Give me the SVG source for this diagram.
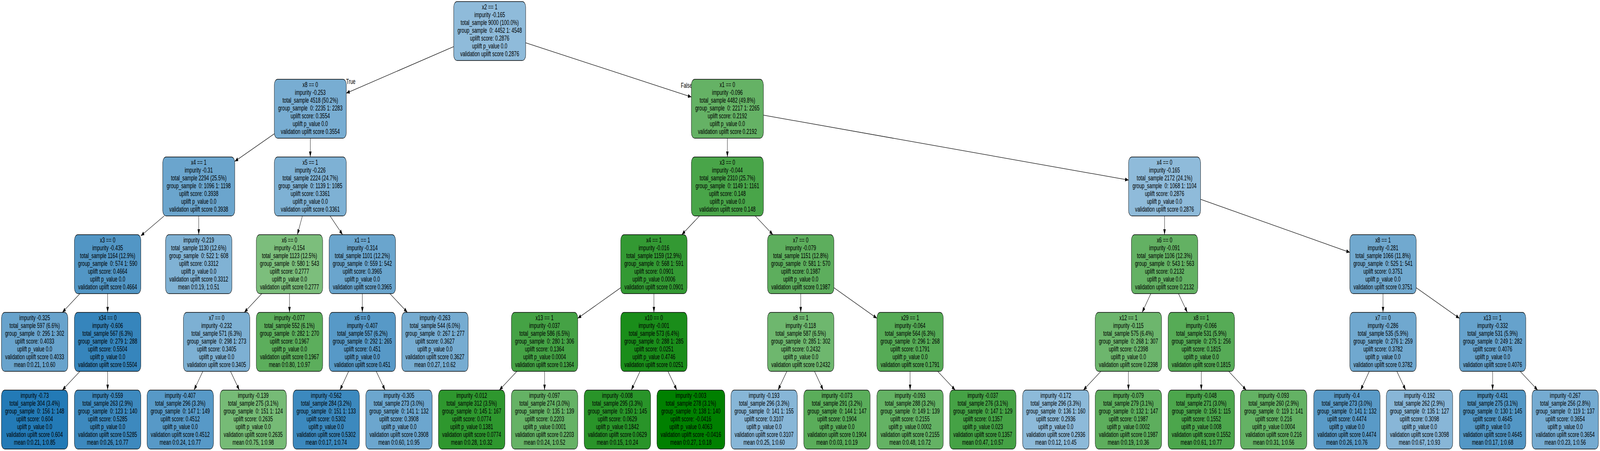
<svg xmlns="http://www.w3.org/2000/svg" width="6533" height="1155" viewBox="0 0 6533 1155" preserveAspectRatio="none" style="display:block;width:100vw;height:100vh">
<style>
.nd rect{stroke:#000;stroke-width:1.3}
text{font-family:"Liberation Sans",Arial,Helvetica,sans-serif;font-size:19px;fill:#000;white-space:pre}
.nd text{text-anchor:middle}
#edges line{stroke:#000;stroke-width:1.3;marker-end:url(#ah)}
</style>
<defs>
<marker id="ah" markerUnits="userSpaceOnUse" markerWidth="14" markerHeight="10" refX="14" refY="5" orient="auto" viewBox="0 0 14 10"><path d="M0,0 L14,5 L0,10 z" fill="#000"/></marker>
</defs>
<rect width="6533" height="1155" fill="#fff"/>
<g id="edges">
<line x1="1852.5" y1="119.4" x2="1414" y2="238.6"/>
<line x1="2146.5" y1="109.6" x2="2823" y2="248.4"/>
<line x1="1120" y1="342.7" x2="958.5" y2="413.3"/>
<line x1="1267" y1="354" x2="1267" y2="402"/>
<line x1="2970" y1="354" x2="2970" y2="402"/>
<line x1="3117" y1="294.9" x2="4608" y2="461.1"/>
<line x1="670.4" y1="553" x2="575" y2="604"/>
<line x1="811.5" y1="553" x2="811.5" y2="601"/>
<line x1="1234.7" y1="553" x2="1214.2" y2="601"/>
<line x1="1347.6" y1="553" x2="1398.9" y2="601"/>
<line x1="2856.2" y1="553" x2="2783.8" y2="601"/>
<line x1="3083.6" y1="553" x2="3155.9" y2="601"/>
<line x1="4755" y1="553" x2="4755" y2="601"/>
<line x1="4902" y1="510.3" x2="5511.5" y2="646.3"/>
<line x1="326.4" y1="752" x2="254.6" y2="800"/>
<line x1="439.5" y1="752" x2="439.5" y2="800"/>
<line x1="1069.1" y1="752" x2="997.4" y2="800"/>
<line x1="1182" y1="752" x2="1182" y2="800"/>
<line x1="1479.5" y1="752" x2="1479.5" y2="800"/>
<line x1="1592" y1="752" x2="1663.5" y2="800"/>
<line x1="2534.5" y1="736.9" x2="2359" y2="815.1"/>
<line x1="2670" y1="752" x2="2670" y2="800"/>
<line x1="3269.5" y1="752" x2="3269.5" y2="800"/>
<line x1="3405" y1="736.9" x2="3580.5" y2="815.1"/>
<line x1="4699" y1="752" x2="4663.5" y2="800"/>
<line x1="4811.9" y1="752" x2="4848.1" y2="800"/>
<line x1="5647" y1="752" x2="5647" y2="800"/>
<line x1="5782.5" y1="736.8" x2="5959" y2="815.2"/>
<line x1="326.4" y1="951" x2="254.6" y2="999"/>
<line x1="439.5" y1="951" x2="439.5" y2="999"/>
<line x1="828.2" y1="951" x2="792.3" y2="999"/>
<line x1="941.2" y1="951" x2="977.3" y2="999"/>
<line x1="1423.5" y1="951" x2="1388" y2="999"/>
<line x1="1536.2" y1="951" x2="1572.3" y2="999"/>
<line x1="2110.6" y1="951" x2="2038.9" y2="999"/>
<line x1="2223.5" y1="951" x2="2223.5" y2="999"/>
<line x1="2613.5" y1="951" x2="2577.5" y2="999"/>
<line x1="2727.3" y1="951" x2="2763.7" y2="999"/>
<line x1="3212.8" y1="951" x2="3176.7" y2="999"/>
<line x1="3325.7" y1="951" x2="3361.3" y2="999"/>
<line x1="3716" y1="951" x2="3716" y2="999"/>
<line x1="3828.7" y1="951" x2="3900.3" y2="999"/>
<line x1="4495" y1="951" x2="4423.5" y2="999"/>
<line x1="4607.5" y1="951" x2="4607.5" y2="999"/>
<line x1="4905" y1="951" x2="4905" y2="999"/>
<line x1="5017.1" y1="951" x2="5088.4" y2="999"/>
<line x1="5591" y1="951" x2="5555.5" y2="999"/>
<line x1="5703.5" y1="951" x2="5739.5" y2="999"/>
<line x1="6094.5" y1="951" x2="6094.5" y2="999"/>
<line x1="6207" y1="951" x2="6278.5" y2="999"/>
<text x="1413" y="215">True</text>
<text x="2780" y="225">False</text>
</g>
<g id="n0" class="nd"><rect x="1852.5" y="4" width="294" height="151" rx="14" fill="#8fbbda"/><text x="1999.5" y="24.5" xml:space="preserve"><tspan x="1999.5">x2 == 1</tspan><tspan x="1999.5" dy="20">impurity -0.165</tspan><tspan x="1999.5" dy="20">total_sample 9000 (100.0%)</tspan><tspan x="1999.5" dy="20">group_sample  0: 4452 1: 4548</tspan><tspan x="1999.5" dy="20">uplift score: 0.2876</tspan><tspan x="1999.5" dy="20">uplift p_value 0.0</tspan><tspan x="1999.5" dy="20">validation uplift score 0.2876</tspan></text></g>
<g id="n1" class="nd"><rect x="1120" y="203" width="294" height="151" rx="14" fill="#78add2"/><text x="1267" y="223.5" xml:space="preserve"><tspan x="1267">x8 == 0</tspan><tspan x="1267" dy="20">impurity -0.253</tspan><tspan x="1267" dy="20">total_sample 4518 (50.2%)</tspan><tspan x="1267" dy="20">group_sample  0: 2235 1: 2283</tspan><tspan x="1267" dy="20">uplift score: 0.3554</tspan><tspan x="1267" dy="20">uplift p_value 0.0</tspan><tspan x="1267" dy="20">validation uplift score 0.3554</tspan></text></g>
<g id="n2" class="nd"><rect x="2823" y="203" width="294" height="151" rx="14" fill="#65b265"/><text x="2970" y="223.5" xml:space="preserve"><tspan x="2970">x1 == 0</tspan><tspan x="2970" dy="20">impurity -0.096</tspan><tspan x="2970" dy="20">total_sample 4482 (49.8%)</tspan><tspan x="2970" dy="20">group_sample  0: 2217 1: 2265</tspan><tspan x="2970" dy="20">uplift score: 0.2192</tspan><tspan x="2970" dy="20">uplift p_value 0.0</tspan><tspan x="2970" dy="20">validation uplift score 0.2192</tspan></text></g>
<g id="n3" class="nd"><rect x="664.5" y="402" width="294" height="151" rx="14" fill="#6ba5cd"/><text x="811.5" y="422.5" xml:space="preserve"><tspan x="811.5">x4 == 1</tspan><tspan x="811.5" dy="20">impurity -0.31</tspan><tspan x="811.5" dy="20">total_sample 2294 (25.5%)</tspan><tspan x="811.5" dy="20">group_sample  0: 1096 1: 1198</tspan><tspan x="811.5" dy="20">uplift score: 0.3938</tspan><tspan x="811.5" dy="20">uplift p_value 0.0</tspan><tspan x="811.5" dy="20">validation uplift score 0.3938</tspan></text></g>
<g id="n4" class="nd"><rect x="1120" y="402" width="294" height="151" rx="14" fill="#7eb1d4"/><text x="1267" y="422.5" xml:space="preserve"><tspan x="1267">x5 == 1</tspan><tspan x="1267" dy="20">impurity -0.226</tspan><tspan x="1267" dy="20">total_sample 2224 (24.7%)</tspan><tspan x="1267" dy="20">group_sample  0: 1139 1: 1085</tspan><tspan x="1267" dy="20">uplift score: 0.3361</tspan><tspan x="1267" dy="20">uplift p_value 0.0</tspan><tspan x="1267" dy="20">validation uplift score 0.3361</tspan></text></g>
<g id="n5" class="nd"><rect x="2823" y="402" width="294" height="151" rx="14" fill="#49a549"/><text x="2970" y="422.5" xml:space="preserve"><tspan x="2970">x3 == 0</tspan><tspan x="2970" dy="20">impurity -0.044</tspan><tspan x="2970" dy="20">total_sample 2310 (25.7%)</tspan><tspan x="2970" dy="20">group_sample  0: 1149 1: 1161</tspan><tspan x="2970" dy="20">uplift score: 0.148</tspan><tspan x="2970" dy="20">uplift p_value 0.0</tspan><tspan x="2970" dy="20">validation uplift score 0.148</tspan></text></g>
<g id="n6" class="nd"><rect x="4608" y="402" width="294" height="151" rx="14" fill="#8fbbda"/><text x="4755" y="422.5" xml:space="preserve"><tspan x="4755">x4 == 0</tspan><tspan x="4755" dy="20">impurity -0.165</tspan><tspan x="4755" dy="20">total_sample 2172 (24.1%)</tspan><tspan x="4755" dy="20">group_sample  0: 1068 1: 1104</tspan><tspan x="4755" dy="20">uplift score: 0.2876</tspan><tspan x="4755" dy="20">uplift p_value 0.0</tspan><tspan x="4755" dy="20">validation uplift score 0.2876</tspan></text></g>
<g id="n7" class="nd"><rect x="304" y="601" width="271" height="151" rx="14" fill="#5296c5"/><text x="439.5" y="621.5" xml:space="preserve"><tspan x="439.5">x3 == 0</tspan><tspan x="439.5" dy="20">impurity -0.435</tspan><tspan x="439.5" dy="20">total_sample 1164 (12.9%)</tspan><tspan x="439.5" dy="20">group_sample  0: 574 1: 590</tspan><tspan x="439.5" dy="20">uplift score: 0.4664</tspan><tspan x="439.5" dy="20">uplift p_value 0.0</tspan><tspan x="439.5" dy="20">validation uplift score 0.4664</tspan></text></g>
<g id="n8" class="nd"><rect x="676" y="601" width="271" height="151" rx="14" fill="#80b2d4"/><text x="811.5" y="621.5" xml:space="preserve"><tspan x="811.5">impurity -0.219</tspan><tspan x="811.5" dy="20">total_sample 1130 (12.6%)</tspan><tspan x="811.5" dy="20">group_sample  0: 522 1: 608</tspan><tspan x="811.5" dy="20">uplift score: 0.3312</tspan><tspan x="811.5" dy="20">uplift p_value 0.0</tspan><tspan x="811.5" dy="20">validation uplift score 0.3312</tspan><tspan x="811.5" dy="20">mean 0:0.19, 1:0.51</tspan></text></g>
<g id="n9" class="nd"><rect x="1046.5" y="601" width="271" height="151" rx="14" fill="#7cbe7c"/><text x="1182" y="621.5" xml:space="preserve"><tspan x="1182">x6 == 0</tspan><tspan x="1182" dy="20">impurity -0.154</tspan><tspan x="1182" dy="20">total_sample 1123 (12.5%)</tspan><tspan x="1182" dy="20">group_sample  0: 580 1: 543</tspan><tspan x="1182" dy="20">uplift score: 0.2777</tspan><tspan x="1182" dy="20">uplift p_value 0.0</tspan><tspan x="1182" dy="20">validation uplift score 0.2777</tspan></text></g>
<g id="n10" class="nd"><rect x="1344" y="601" width="271" height="151" rx="14" fill="#6aa5cd"/><text x="1479.5" y="621.5" xml:space="preserve"><tspan x="1479.5">x1 == 1</tspan><tspan x="1479.5" dy="20">impurity -0.314</tspan><tspan x="1479.5" dy="20">total_sample 1101 (12.2%)</tspan><tspan x="1479.5" dy="20">group_sample  0: 559 1: 542</tspan><tspan x="1479.5" dy="20">uplift score: 0.3965</tspan><tspan x="1479.5" dy="20">uplift p_value 0.0</tspan><tspan x="1479.5" dy="20">validation uplift score 0.3965</tspan></text></g>
<g id="n11" class="nd"><rect x="2534.5" y="601" width="271" height="151" rx="14" fill="#339933"/><text x="2670" y="621.5" xml:space="preserve"><tspan x="2670">x4 == 1</tspan><tspan x="2670" dy="20">impurity -0.016</tspan><tspan x="2670" dy="20">total_sample 1159 (12.9%)</tspan><tspan x="2670" dy="20">group_sample  0: 568 1: 591</tspan><tspan x="2670" dy="20">uplift score: 0.0901</tspan><tspan x="2670" dy="20">uplift p_value 0.0006</tspan><tspan x="2670" dy="20">validation uplift score 0.0901</tspan></text></g>
<g id="n12" class="nd"><rect x="3134" y="601" width="271" height="151" rx="14" fill="#5dae5d"/><text x="3269.5" y="621.5" xml:space="preserve"><tspan x="3269.5">x7 == 0</tspan><tspan x="3269.5" dy="20">impurity -0.079</tspan><tspan x="3269.5" dy="20">total_sample 1151 (12.8%)</tspan><tspan x="3269.5" dy="20">group_sample  0: 581 1: 570</tspan><tspan x="3269.5" dy="20">uplift score: 0.1987</tspan><tspan x="3269.5" dy="20">uplift p_value 0.0</tspan><tspan x="3269.5" dy="20">validation uplift score 0.1987</tspan></text></g>
<g id="n13" class="nd"><rect x="4619.5" y="601" width="271" height="151" rx="14" fill="#63b163"/><text x="4755" y="621.5" xml:space="preserve"><tspan x="4755">x6 == 0</tspan><tspan x="4755" dy="20">impurity -0.091</tspan><tspan x="4755" dy="20">total_sample 1106 (12.3%)</tspan><tspan x="4755" dy="20">group_sample  0: 543 1: 563</tspan><tspan x="4755" dy="20">uplift score: 0.2132</tspan><tspan x="4755" dy="20">uplift p_value 0.0</tspan><tspan x="4755" dy="20">validation uplift score 0.2132</tspan></text></g>
<g id="n14" class="nd"><rect x="5511.5" y="601" width="271" height="151" rx="14" fill="#71a9cf"/><text x="5647" y="621.5" xml:space="preserve"><tspan x="5647">x8 == 1</tspan><tspan x="5647" dy="20">impurity -0.281</tspan><tspan x="5647" dy="20">total_sample 1066 (11.8%)</tspan><tspan x="5647" dy="20">group_sample  0: 525 1: 541</tspan><tspan x="5647" dy="20">uplift score: 0.3751</tspan><tspan x="5647" dy="20">uplift p_value 0.0</tspan><tspan x="5647" dy="20">validation uplift score 0.3751</tspan></text></g>
<g id="n15" class="nd"><rect x="6" y="800" width="271" height="151" rx="14" fill="#68a3cc"/><text x="141.5" y="820.5" xml:space="preserve"><tspan x="141.5">impurity -0.325</tspan><tspan x="141.5" dy="20">total_sample 597 (6.6%)</tspan><tspan x="141.5" dy="20">group_sample  0: 295 1: 302</tspan><tspan x="141.5" dy="20">uplift score: 0.4033</tspan><tspan x="141.5" dy="20">uplift p_value 0.0</tspan><tspan x="141.5" dy="20">validation uplift score 0.4033</tspan><tspan x="141.5" dy="20">mean 0:0.21, 1:0.60</tspan></text></g>
<g id="n16" class="nd"><rect x="304" y="800" width="271" height="151" rx="14" fill="#3685bc"/><text x="439.5" y="820.5" xml:space="preserve"><tspan x="439.5">x34 == 0</tspan><tspan x="439.5" dy="20">impurity -0.606</tspan><tspan x="439.5" dy="20">total_sample 567 (6.3%)</tspan><tspan x="439.5" dy="20">group_sample  0: 279 1: 288</tspan><tspan x="439.5" dy="20">uplift score: 0.5504</tspan><tspan x="439.5" dy="20">uplift p_value 0.0</tspan><tspan x="439.5" dy="20">validation uplift score 0.5504</tspan></text></g>
<g id="n17" class="nd"><rect x="749" y="800" width="271" height="151" rx="14" fill="#7db0d3"/><text x="884.5" y="820.5" xml:space="preserve"><tspan x="884.5">x7 == 0</tspan><tspan x="884.5" dy="20">impurity -0.232</tspan><tspan x="884.5" dy="20">total_sample 571 (6.3%)</tspan><tspan x="884.5" dy="20">group_sample  0: 298 1: 273</tspan><tspan x="884.5" dy="20">uplift score: 0.3405</tspan><tspan x="884.5" dy="20">uplift p_value 0.0</tspan><tspan x="884.5" dy="20">validation uplift score 0.3405</tspan></text></g>
<g id="n18" class="nd"><rect x="1046.5" y="800" width="271" height="151" rx="14" fill="#5cae5c"/><text x="1182" y="820.5" xml:space="preserve"><tspan x="1182">impurity -0.077</tspan><tspan x="1182" dy="20">total_sample 552 (6.1%)</tspan><tspan x="1182" dy="20">group_sample  0: 282 1: 270</tspan><tspan x="1182" dy="20">uplift score: 0.1967</tspan><tspan x="1182" dy="20">uplift p_value 0.0</tspan><tspan x="1182" dy="20">validation uplift score 0.1967</tspan><tspan x="1182" dy="20">mean 0:0.80, 1:0.97</tspan></text></g>
<g id="n19" class="nd"><rect x="1344" y="800" width="271" height="151" rx="14" fill="#5799c7"/><text x="1479.5" y="820.5" xml:space="preserve"><tspan x="1479.5">x6 == 0</tspan><tspan x="1479.5" dy="20">impurity -0.407</tspan><tspan x="1479.5" dy="20">total_sample 557 (6.2%)</tspan><tspan x="1479.5" dy="20">group_sample  0: 292 1: 265</tspan><tspan x="1479.5" dy="20">uplift score: 0.451</tspan><tspan x="1479.5" dy="20">uplift p_value 0.0</tspan><tspan x="1479.5" dy="20">validation uplift score 0.451</tspan></text></g>
<g id="n20" class="nd"><rect x="1640.5" y="800" width="271" height="151" rx="14" fill="#76acd1"/><text x="1776" y="820.5" xml:space="preserve"><tspan x="1776">impurity -0.263</tspan><tspan x="1776" dy="20">total_sample 544 (6.0%)</tspan><tspan x="1776" dy="20">group_sample  0: 267 1: 277</tspan><tspan x="1776" dy="20">uplift score: 0.3627</tspan><tspan x="1776" dy="20">uplift p_value 0.0</tspan><tspan x="1776" dy="20">validation uplift score 0.3627</tspan><tspan x="1776" dy="20">mean 0:0.27, 1:0.62</tspan></text></g>
<g id="n21" class="nd"><rect x="2088" y="800" width="271" height="151" rx="14" fill="#45a245"/><text x="2223.5" y="820.5" xml:space="preserve"><tspan x="2223.5">x13 == 1</tspan><tspan x="2223.5" dy="20">impurity -0.037</tspan><tspan x="2223.5" dy="20">total_sample 586 (6.5%)</tspan><tspan x="2223.5" dy="20">group_sample  0: 280 1: 306</tspan><tspan x="2223.5" dy="20">uplift score: 0.1364</tspan><tspan x="2223.5" dy="20">uplift p_value 0.0004</tspan><tspan x="2223.5" dy="20">validation uplift score 0.1364</tspan></text></g>
<g id="n22" class="nd"><rect x="2534.5" y="800" width="271" height="151" rx="14" fill="#1a8d1a"/><text x="2670" y="820.5" xml:space="preserve"><tspan x="2670">x10 == 0</tspan><tspan x="2670" dy="20">impurity -0.001</tspan><tspan x="2670" dy="20">total_sample 573 (6.4%)</tspan><tspan x="2670" dy="20">group_sample  0: 288 1: 285</tspan><tspan x="2670" dy="20">uplift score: 0.0251</tspan><tspan x="2670" dy="20">uplift p_value 0.4746</tspan><tspan x="2670" dy="20">validation uplift score 0.0251</tspan></text></g>
<g id="n23" class="nd"><rect x="3134" y="800" width="271" height="151" rx="14" fill="#6eb76e"/><text x="3269.5" y="820.5" xml:space="preserve"><tspan x="3269.5">x8 == 1</tspan><tspan x="3269.5" dy="20">impurity -0.118</tspan><tspan x="3269.5" dy="20">total_sample 587 (6.5%)</tspan><tspan x="3269.5" dy="20">group_sample  0: 285 1: 302</tspan><tspan x="3269.5" dy="20">uplift score: 0.2432</tspan><tspan x="3269.5" dy="20">uplift p_value 0.0</tspan><tspan x="3269.5" dy="20">validation uplift score 0.2432</tspan></text></g>
<g id="n24" class="nd"><rect x="3580.5" y="800" width="271" height="151" rx="14" fill="#56ab56"/><text x="3716" y="820.5" xml:space="preserve"><tspan x="3716">x29 == 1</tspan><tspan x="3716" dy="20">impurity -0.064</tspan><tspan x="3716" dy="20">total_sample 564 (6.3%)</tspan><tspan x="3716" dy="20">group_sample  0: 296 1: 268</tspan><tspan x="3716" dy="20">uplift score: 0.1791</tspan><tspan x="3716" dy="20">uplift p_value 0.0</tspan><tspan x="3716" dy="20">validation uplift score 0.1791</tspan></text></g>
<g id="n25" class="nd"><rect x="4472" y="800" width="271" height="151" rx="14" fill="#6db66d"/><text x="4607.5" y="820.5" xml:space="preserve"><tspan x="4607.5">x12 == 1</tspan><tspan x="4607.5" dy="20">impurity -0.115</tspan><tspan x="4607.5" dy="20">total_sample 575 (6.4%)</tspan><tspan x="4607.5" dy="20">group_sample  0: 268 1: 307</tspan><tspan x="4607.5" dy="20">uplift score: 0.2398</tspan><tspan x="4607.5" dy="20">uplift p_value 0.0</tspan><tspan x="4607.5" dy="20">validation uplift score 0.2398</tspan></text></g>
<g id="n26" class="nd"><rect x="4769.5" y="800" width="271" height="151" rx="14" fill="#56ab56"/><text x="4905" y="820.5" xml:space="preserve"><tspan x="4905">x8 == 1</tspan><tspan x="4905" dy="20">impurity -0.066</tspan><tspan x="4905" dy="20">total_sample 531 (5.9%)</tspan><tspan x="4905" dy="20">group_sample  0: 275 1: 256</tspan><tspan x="4905" dy="20">uplift score: 0.1815</tspan><tspan x="4905" dy="20">uplift p_value 0.0</tspan><tspan x="4905" dy="20">validation uplift score 0.1815</tspan></text></g>
<g id="n27" class="nd"><rect x="5511.5" y="800" width="271" height="151" rx="14" fill="#70a8cf"/><text x="5647" y="820.5" xml:space="preserve"><tspan x="5647">x7 == 0</tspan><tspan x="5647" dy="20">impurity -0.286</tspan><tspan x="5647" dy="20">total_sample 535 (5.9%)</tspan><tspan x="5647" dy="20">group_sample  0: 276 1: 259</tspan><tspan x="5647" dy="20">uplift score: 0.3782</tspan><tspan x="5647" dy="20">uplift p_value 0.0</tspan><tspan x="5647" dy="20">validation uplift score 0.3782</tspan></text></g>
<g id="n28" class="nd"><rect x="5959" y="800" width="271" height="151" rx="14" fill="#66a2cc"/><text x="6094.5" y="820.5" xml:space="preserve"><tspan x="6094.5">x13 == 1</tspan><tspan x="6094.5" dy="20">impurity -0.332</tspan><tspan x="6094.5" dy="20">total_sample 531 (5.9%)</tspan><tspan x="6094.5" dy="20">group_sample  0: 249 1: 282</tspan><tspan x="6094.5" dy="20">uplift score: 0.4076</tspan><tspan x="6094.5" dy="20">uplift p_value 0.0</tspan><tspan x="6094.5" dy="20">validation uplift score 0.4076</tspan></text></g>
<g id="n29" class="nd"><rect x="6" y="999" width="271" height="151" rx="14" fill="#237ab6"/><text x="141.5" y="1019.5" xml:space="preserve"><tspan x="141.5">impurity -0.73</tspan><tspan x="141.5" dy="20">total_sample 304 (3.4%)</tspan><tspan x="141.5" dy="20">group_sample  0: 156 1: 148</tspan><tspan x="141.5" dy="20">uplift score: 0.604</tspan><tspan x="141.5" dy="20">uplift p_value 0.0</tspan><tspan x="141.5" dy="20">validation uplift score 0.604</tspan><tspan x="141.5" dy="20">mean 0:0.21, 1:0.85</tspan></text></g>
<g id="n30" class="nd"><rect x="304" y="999" width="271" height="151" rx="14" fill="#3d89be"/><text x="439.5" y="1019.5" xml:space="preserve"><tspan x="439.5">impurity -0.559</tspan><tspan x="439.5" dy="20">total_sample 263 (2.9%)</tspan><tspan x="439.5" dy="20">group_sample  0: 123 1: 140</tspan><tspan x="439.5" dy="20">uplift score: 0.5285</tspan><tspan x="439.5" dy="20">uplift p_value 0.0</tspan><tspan x="439.5" dy="20">validation uplift score 0.5285</tspan><tspan x="439.5" dy="20">mean 0:0.26, 1:0.77</tspan></text></g>
<g id="n31" class="nd"><rect x="600.5" y="999" width="271" height="151" rx="14" fill="#5799c7"/><text x="736" y="1019.5" xml:space="preserve"><tspan x="736">impurity -0.407</tspan><tspan x="736" dy="20">total_sample 296 (3.3%)</tspan><tspan x="736" dy="20">group_sample  0: 147 1: 149</tspan><tspan x="736" dy="20">uplift score: 0.4512</tspan><tspan x="736" dy="20">uplift p_value 0.0</tspan><tspan x="736" dy="20">validation uplift score 0.4512</tspan><tspan x="736" dy="20">mean 0:0.24, 1:0.77</tspan></text></g>
<g id="n32" class="nd"><rect x="898.5" y="999" width="271" height="151" rx="14" fill="#76bb76"/><text x="1034" y="1019.5" xml:space="preserve"><tspan x="1034">impurity -0.139</tspan><tspan x="1034" dy="20">total_sample 275 (3.1%)</tspan><tspan x="1034" dy="20">group_sample  0: 151 1: 124</tspan><tspan x="1034" dy="20">uplift score: 0.2635</tspan><tspan x="1034" dy="20">uplift p_value 0.0</tspan><tspan x="1034" dy="20">validation uplift score 0.2635</tspan><tspan x="1034" dy="20">mean 0:0.75, 1:0.98</tspan></text></g>
<g id="n33" class="nd"><rect x="1196.5" y="999" width="271" height="151" rx="14" fill="#3c89be"/><text x="1332" y="1019.5" xml:space="preserve"><tspan x="1332">impurity -0.562</tspan><tspan x="1332" dy="20">total_sample 284 (3.2%)</tspan><tspan x="1332" dy="20">group_sample  0: 151 1: 133</tspan><tspan x="1332" dy="20">uplift score: 0.5302</tspan><tspan x="1332" dy="20">uplift p_value 0.0</tspan><tspan x="1332" dy="20">validation uplift score 0.5302</tspan><tspan x="1332" dy="20">mean 0:0.17, 1:0.74</tspan></text></g>
<g id="n34" class="nd"><rect x="1493.5" y="999" width="271" height="151" rx="14" fill="#6ca6ce"/><text x="1629" y="1019.5" xml:space="preserve"><tspan x="1629">impurity -0.305</tspan><tspan x="1629" dy="20">total_sample 273 (3.0%)</tspan><tspan x="1629" dy="20">group_sample  0: 141 1: 132</tspan><tspan x="1629" dy="20">uplift score: 0.3908</tspan><tspan x="1629" dy="20">uplift p_value 0.0</tspan><tspan x="1629" dy="20">validation uplift score 0.3908</tspan><tspan x="1629" dy="20">mean 0:0.60, 1:0.95</tspan></text></g>
<g id="n35" class="nd"><rect x="1790.5" y="999" width="271" height="151" rx="14" fill="#2e972e"/><text x="1926" y="1019.5" xml:space="preserve"><tspan x="1926">impurity -0.012</tspan><tspan x="1926" dy="20">total_sample 312 (3.5%)</tspan><tspan x="1926" dy="20">group_sample  0: 145 1: 167</tspan><tspan x="1926" dy="20">uplift score: 0.0774</tspan><tspan x="1926" dy="20">uplift p_value 0.1381</tspan><tspan x="1926" dy="20">validation uplift score 0.0774</tspan><tspan x="1926" dy="20">mean 0:0.28, 1:0.32</tspan></text></g>
<g id="n36" class="nd"><rect x="2088" y="999" width="271" height="151" rx="14" fill="#65b265"/><text x="2223.5" y="1019.5" xml:space="preserve"><tspan x="2223.5">impurity -0.097</tspan><tspan x="2223.5" dy="20">total_sample 274 (3.0%)</tspan><tspan x="2223.5" dy="20">group_sample  0: 135 1: 139</tspan><tspan x="2223.5" dy="20">uplift score: 0.2203</tspan><tspan x="2223.5" dy="20">uplift p_value 0.0001</tspan><tspan x="2223.5" dy="20">validation uplift score 0.2203</tspan><tspan x="2223.5" dy="20">mean 0:0.24, 1:0.52</tspan></text></g>
<g id="n37" class="nd"><rect x="2385.5" y="999" width="271" height="151" rx="14" fill="#299429"/><text x="2521" y="1019.5" xml:space="preserve"><tspan x="2521">impurity -0.008</tspan><tspan x="2521" dy="20">total_sample 295 (3.3%)</tspan><tspan x="2521" dy="20">group_sample  0: 150 1: 145</tspan><tspan x="2521" dy="20">uplift score: 0.0629</tspan><tspan x="2521" dy="20">uplift p_value 0.1842</tspan><tspan x="2521" dy="20">validation uplift score 0.0629</tspan><tspan x="2521" dy="20">mean 0:0.15, 1:0.24</tspan></text></g>
<g id="n38" class="nd"><rect x="2682.5" y="999" width="277" height="151" rx="14" fill="#008000"/><text x="2821" y="1019.5" xml:space="preserve"><tspan x="2821">impurity -0.003</tspan><tspan x="2821" dy="20">total_sample 278 (3.1%)</tspan><tspan x="2821" dy="20">group_sample  0: 138 1: 140</tspan><tspan x="2821" dy="20">uplift score: -0.0416</tspan><tspan x="2821" dy="20">uplift p_value 0.4063</tspan><tspan x="2821" dy="20">validation uplift score -0.0416</tspan><tspan x="2821" dy="20">mean 0:0.27, 1:0.18</tspan></text></g>
<g id="n39" class="nd"><rect x="2984.5" y="999" width="271" height="151" rx="14" fill="#87b6d7"/><text x="3120" y="1019.5" xml:space="preserve"><tspan x="3120">impurity -0.193</tspan><tspan x="3120" dy="20">total_sample 296 (3.3%)</tspan><tspan x="3120" dy="20">group_sample  0: 141 1: 155</tspan><tspan x="3120" dy="20">uplift score: 0.3107</tspan><tspan x="3120" dy="20">uplift p_value 0.0</tspan><tspan x="3120" dy="20">validation uplift score 0.3107</tspan><tspan x="3120" dy="20">mean 0:0.25, 1:0.60</tspan></text></g>
<g id="n40" class="nd"><rect x="3282" y="999" width="271" height="151" rx="14" fill="#5aad5a"/><text x="3417.5" y="1019.5" xml:space="preserve"><tspan x="3417.5">impurity -0.073</tspan><tspan x="3417.5" dy="20">total_sample 291 (3.2%)</tspan><tspan x="3417.5" dy="20">group_sample  0: 144 1: 147</tspan><tspan x="3417.5" dy="20">uplift score: 0.1904</tspan><tspan x="3417.5" dy="20">uplift p_value 0.0</tspan><tspan x="3417.5" dy="20">validation uplift score 0.1904</tspan><tspan x="3417.5" dy="20">mean 0:0.03, 1:0.19</tspan></text></g>
<g id="n41" class="nd"><rect x="3580.5" y="999" width="271" height="151" rx="14" fill="#64b264"/><text x="3716" y="1019.5" xml:space="preserve"><tspan x="3716">impurity -0.093</tspan><tspan x="3716" dy="20">total_sample 288 (3.2%)</tspan><tspan x="3716" dy="20">group_sample  0: 149 1: 139</tspan><tspan x="3716" dy="20">uplift score: 0.2155</tspan><tspan x="3716" dy="20">uplift p_value 0.0002</tspan><tspan x="3716" dy="20">validation uplift score 0.2155</tspan><tspan x="3716" dy="20">mean 0:0.48, 1:0.72</tspan></text></g>
<g id="n42" class="nd"><rect x="3877.5" y="999" width="271" height="151" rx="14" fill="#45a245"/><text x="4013" y="1019.5" xml:space="preserve"><tspan x="4013">impurity -0.037</tspan><tspan x="4013" dy="20">total_sample 276 (3.1%)</tspan><tspan x="4013" dy="20">group_sample  0: 147 1: 129</tspan><tspan x="4013" dy="20">uplift score: 0.1357</tspan><tspan x="4013" dy="20">uplift p_value 0.023</tspan><tspan x="4013" dy="20">validation uplift score 0.1357</tspan><tspan x="4013" dy="20">mean 0:0.47, 1:0.57</tspan></text></g>
<g id="n43" class="nd"><rect x="4175.5" y="999" width="271" height="151" rx="14" fill="#8dbad9"/><text x="4311" y="1019.5" xml:space="preserve"><tspan x="4311">impurity -0.172</tspan><tspan x="4311" dy="20">total_sample 296 (3.3%)</tspan><tspan x="4311" dy="20">group_sample  0: 136 1: 160</tspan><tspan x="4311" dy="20">uplift score: 0.2936</tspan><tspan x="4311" dy="20">uplift p_value 0.0</tspan><tspan x="4311" dy="20">validation uplift score 0.2936</tspan><tspan x="4311" dy="20">mean 0:0.12, 1:0.45</tspan></text></g>
<g id="n44" class="nd"><rect x="4472" y="999" width="271" height="151" rx="14" fill="#5dae5d"/><text x="4607.5" y="1019.5" xml:space="preserve"><tspan x="4607.5">impurity -0.079</tspan><tspan x="4607.5" dy="20">total_sample 279 (3.1%)</tspan><tspan x="4607.5" dy="20">group_sample  0: 132 1: 147</tspan><tspan x="4607.5" dy="20">uplift score: 0.1987</tspan><tspan x="4607.5" dy="20">uplift p_value 0.0002</tspan><tspan x="4607.5" dy="20">validation uplift score 0.1987</tspan><tspan x="4607.5" dy="20">mean 0:0.19, 1:0.36</tspan></text></g>
<g id="n45" class="nd"><rect x="4769.5" y="999" width="271" height="151" rx="14" fill="#4ca64c"/><text x="4905" y="1019.5" xml:space="preserve"><tspan x="4905">impurity -0.048</tspan><tspan x="4905" dy="20">total_sample 271 (3.0%)</tspan><tspan x="4905" dy="20">group_sample  0: 156 1: 115</tspan><tspan x="4905" dy="20">uplift score: 0.1552</tspan><tspan x="4905" dy="20">uplift p_value 0.008</tspan><tspan x="4905" dy="20">validation uplift score 0.1552</tspan><tspan x="4905" dy="20">mean 0:0.61, 1:0.77</tspan></text></g>
<g id="n46" class="nd"><rect x="5065" y="999" width="271" height="151" rx="14" fill="#64b264"/><text x="5200.5" y="1019.5" xml:space="preserve"><tspan x="5200.5">impurity -0.093</tspan><tspan x="5200.5" dy="20">total_sample 260 (2.9%)</tspan><tspan x="5200.5" dy="20">group_sample  0: 119 1: 141</tspan><tspan x="5200.5" dy="20">uplift score: 0.216</tspan><tspan x="5200.5" dy="20">uplift p_value 0.0004</tspan><tspan x="5200.5" dy="20">validation uplift score 0.216</tspan><tspan x="5200.5" dy="20">mean 0:0.31, 1:0.56</tspan></text></g>
<g id="n47" class="nd"><rect x="5364" y="999" width="271" height="151" rx="14" fill="#599ac7"/><text x="5499.5" y="1019.5" xml:space="preserve"><tspan x="5499.5">impurity -0.4</tspan><tspan x="5499.5" dy="20">total_sample 273 (3.0%)</tspan><tspan x="5499.5" dy="20">group_sample  0: 141 1: 132</tspan><tspan x="5499.5" dy="20">uplift score: 0.4474</tspan><tspan x="5499.5" dy="20">uplift p_value 0.0</tspan><tspan x="5499.5" dy="20">validation uplift score 0.4474</tspan><tspan x="5499.5" dy="20">mean 0:0.26, 1:0.76</tspan></text></g>
<g id="n48" class="nd"><rect x="5660.5" y="999" width="271" height="151" rx="14" fill="#88b6d7"/><text x="5796" y="1019.5" xml:space="preserve"><tspan x="5796">impurity -0.192</tspan><tspan x="5796" dy="20">total_sample 262 (2.9%)</tspan><tspan x="5796" dy="20">group_sample  0: 135 1: 127</tspan><tspan x="5796" dy="20">uplift score: 0.3098</tspan><tspan x="5796" dy="20">uplift p_value 0.0</tspan><tspan x="5796" dy="20">validation uplift score 0.3098</tspan><tspan x="5796" dy="20">mean 0:0.67, 1:0.93</tspan></text></g>
<g id="n49" class="nd"><rect x="5959" y="999" width="271" height="151" rx="14" fill="#5397c5"/><text x="6094.5" y="1019.5" xml:space="preserve"><tspan x="6094.5">impurity -0.431</tspan><tspan x="6094.5" dy="20">total_sample 275 (3.1%)</tspan><tspan x="6094.5" dy="20">group_sample  0: 130 1: 145</tspan><tspan x="6094.5" dy="20">uplift score: 0.4645</tspan><tspan x="6094.5" dy="20">uplift p_value 0.0</tspan><tspan x="6094.5" dy="20">validation uplift score 0.4645</tspan><tspan x="6094.5" dy="20">mean 0:0.17, 1:0.68</tspan></text></g>
<g id="n50" class="nd"><rect x="6255.5" y="999" width="271" height="151" rx="14" fill="#75abd1"/><text x="6391" y="1019.5" xml:space="preserve"><tspan x="6391">impurity -0.267</tspan><tspan x="6391" dy="20">total_sample 256 (2.8%)</tspan><tspan x="6391" dy="20">group_sample  0: 119 1: 137</tspan><tspan x="6391" dy="20">uplift score: 0.3654</tspan><tspan x="6391" dy="20">uplift p_value 0.0</tspan><tspan x="6391" dy="20">validation uplift score 0.3654</tspan><tspan x="6391" dy="20">mean 0:0.23, 1:0.56</tspan></text></g>
</svg>
